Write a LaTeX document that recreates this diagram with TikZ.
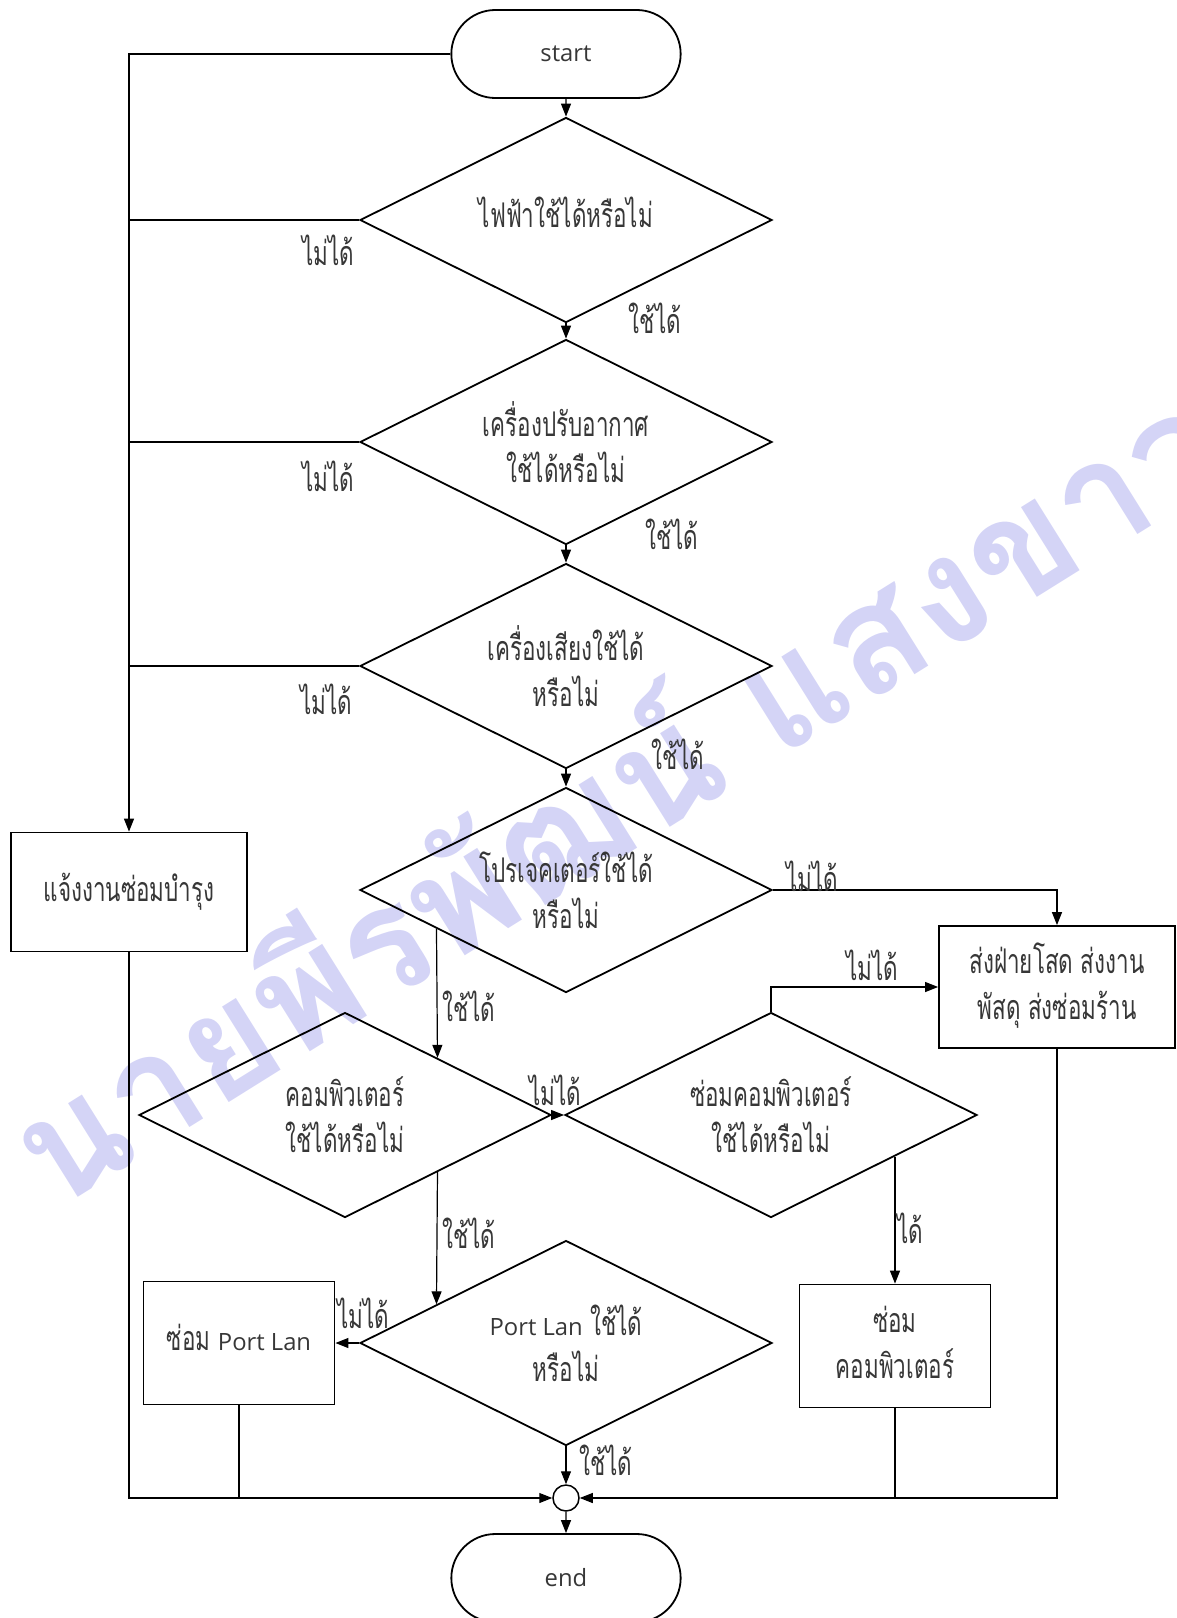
\documentclass[tikz,border=0pt]{standalone}
\usepackage{fontspec}
\setmainfont[Script=Thai,FakeStretch=0.66]{Loma}
\newfontfamily\latfont[Scale=0.7]{Open Sans}
\newfontfamily\wmfont[Script=Thai]{Loma}
\usetikzlibrary{shapes.geometric,shapes.misc,arrows.meta,calc}
\definecolor{txt}{RGB}{55,55,55}
\definecolor{wm}{RGB}{212,212,246}
\newcommand\lat[1]{{\latfont #1}}
\begin{document}
\begin{tikzpicture}[x=1pt,y=-1pt,
  every node/.style={font=\fontsize{34}{46}\selectfont, text=txt},
  dec/.style={diamond, shape aspect=2, draw=black, line width=1.8pt, minimum width=412pt, minimum height=205pt, inner sep=0pt, align=center},
  proc/.style={rectangle, draw=black, line width=1.8pt, align=center, inner sep=0pt},
  term/.style={rounded rectangle, draw=black, line width=1.8pt, minimum width=236pt, minimum height=88pt},
  conn/.style={line width=1.2pt, draw=black},
  arr/.style={conn, -{Triangle[length=13pt,width=10pt]}},
  lbl/.style={inner sep=0pt}]
\useasboundingbox (0,0) rectangle (1176,1618);
% watermark
\node[rotate=32, text=wm, font=\wmfont\bfseries\fontsize{152}{152}\selectfont] (wm) at (611,786) {นายพีรพัฒน์ แสงขาว};
% nodes
\node[term] (start) at (566,54) {\lat{start}};
\node[dec] (d1) at (566,220) {\raisebox{15pt}{ไฟฟ้าใช้ได้หรือไม่}};
\node[dec] (d2) at (566,442) {เครื่องปรับอากาศ\\ใช้ได้หรือไม่};
\node[dec] (d3) at (566,666) {เครื่องเสียงใช้ได้\\หรือไม่};
\node[dec] (d4) at (566,890) {โปรเจคเตอร์ใช้ได้\\หรือไม่};
\node[dec] (d5) at (345,1115) {คอมพิวเตอร์\\ใช้ได้หรือไม่};
\node[dec] (d6) at (771,1115) {ซ่อมคอมพิวเตอร์\\ใช้ได้หรือไม่};
\node[dec] (d7) at (566,1343) {\lat{Port Lan} ใช้ได้\\หรือไม่};
\node[proc, minimum width=236pt, minimum height=119pt] (b1) at (129,892) {\raisebox{10pt}{แจ้งงานซ่อมบำรุง}};
\node[proc, minimum width=236pt, minimum height=122pt] (b2) at (1057,987) {\raisebox{3pt}{\begin{tabular}{@{}c@{}}ส่งฝ่ายโสด ส่งงาน\\พัสดุ ส่งซ่อมร้าน\end{tabular}}};
\node[proc, minimum width=191pt, minimum height=123pt] (b3) at (895,1346) {\raisebox{6pt}{\begin{tabular}{@{}c@{}}ซ่อม\\คอมพิวเตอร์\end{tabular}}};
\node[proc, minimum width=191pt, minimum height=123pt] (b4) at (239,1343) {\raisebox{12pt}{ซ่อม \lat{Port Lan}}};
\node[circle, draw=black, line width=1.5pt, minimum size=26pt, inner sep=0pt] (c) at (566,1498) {};
\node[term] (end) at (566,1578) {\lat{end}};
% helper coordinates on diamond edges
\coordinate (p4) at ($(d4.west)!0.374!(d4.south)$);
\coordinate (q5) at ($(d5.north)!0.447!(d5.east)$);
\coordinate (p5) at ($(d5.south)!0.447!(d5.east)$);
\coordinate (q7) at ($(d7.west)!0.374!(d7.north)$);
\coordinate (p6) at ($(d6.south)!0.597!(d6.east)$);
% connectors
\draw[arr] (start) -- (d1);
\draw[arr] (d1) -- (d2);
\draw[arr] (d2) -- (d3);
\draw[arr] (d3) -- (d4);
\draw[arr] (start.west) -| (b1.north);
\draw[conn] (d1.west) -- (d1.west -| b1.north);
\draw[conn] (d2.west) -- (d2.west -| b1.north);
\draw[conn] (d3.west) -- (d3.west -| b1.north);
\draw[arr] (d4.east) -| (b2.north);
\draw[arr] (p4) -- (q5);
\draw[arr] (d5.east) -- (d6.west);
\draw[arr] (d6.north) |- (b2.west);
\draw[arr] (p5) -- (q7);
\draw[arr] (b3.north |- p6) -- (b3.north);
\draw[arr] (d7.west) -- (b4.east);
\draw[arr] (d7) -- (c);
\draw[arr] (c) -- (end);
\draw[arr] (b1.south) |- (c.west);
\draw[conn] (b4.south) -- (b4.south |- c.west);
\draw[arr] (b2.south) |- (c.east);
\draw[conn] (b3.south) -- (b3.south |- c.east);
% labels
\node[lbl] (l1) at (328,250) {ไม่ได้};
\node[lbl] (l2) at (655,318) {ใช้ได้};
\node[lbl] (l3) at (328,476) {ไม่ได้};
\node[lbl] (l4) at (672,534) {ใช้ได้};
\node[lbl] (l5) at (326,699) {ไม่ได้};
\node[lbl] (l6) at (678,754) {ใช้ได้};
\node[lbl] (l7) at (812,876) {ไม่ได้};
\node[lbl] (l8) at (469,1006) {ใช้ได้};
\node[lbl] (l9) at (555,1090) {ไม่ได้};
\node[lbl] (l10) at (872,965) {ไม่ได้};
\node[lbl] (l11) at (910,1228) {ได้};
\node[lbl] (l12) at (469,1233) {ใช้ได้};
\node[lbl] (l13) at (363,1313) {ไม่ได้};
\node[lbl] (l14) at (606,1460) {ใช้ได้};
\end{tikzpicture}
\end{document}
